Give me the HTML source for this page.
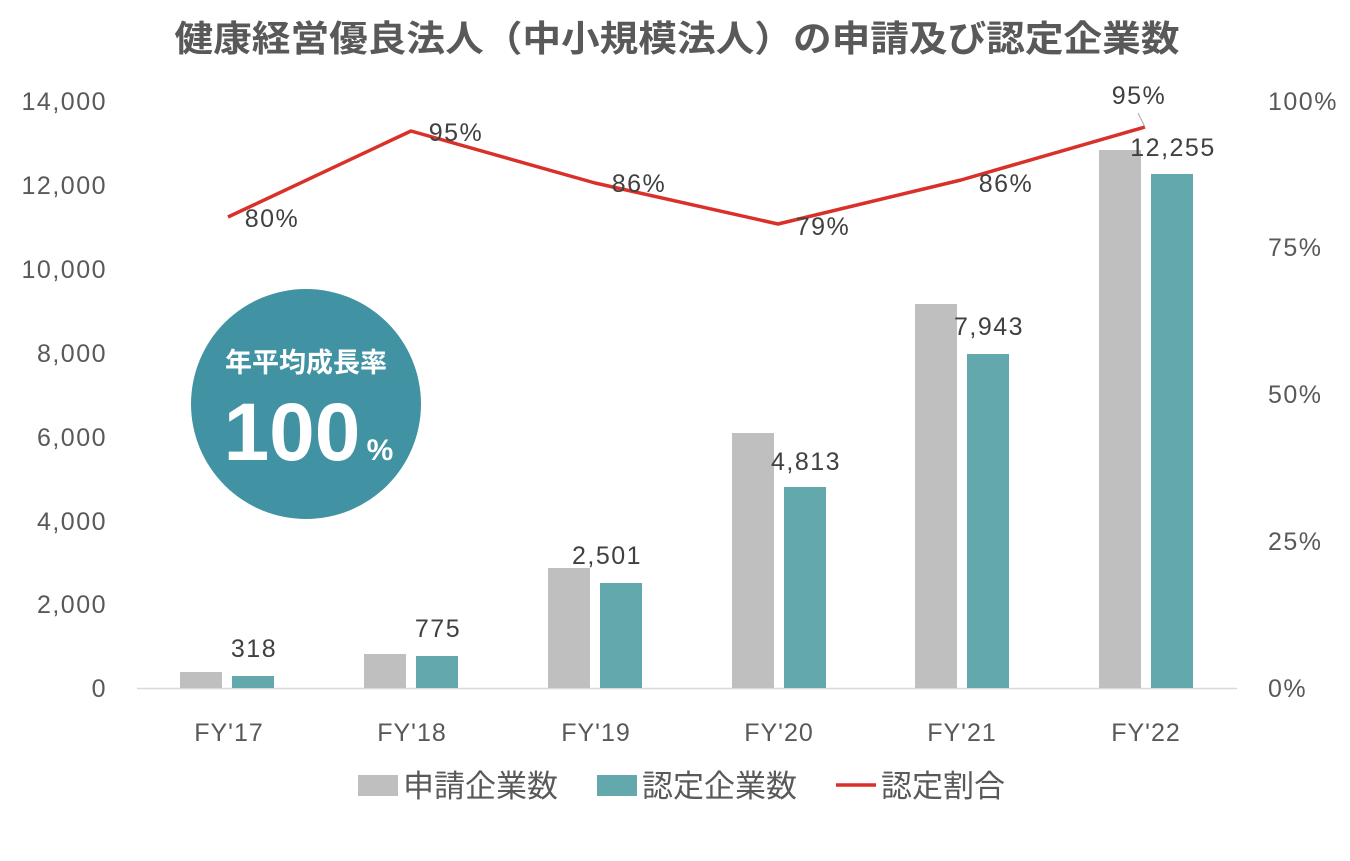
<!DOCTYPE html>
<html><head><meta charset="utf-8"><style>
body{margin:0;background:#fff;}
svg text{font-family:"Liberation Sans","Noto Sans CJK JP",sans-serif;}
</style></head><body>
<svg width="1350" height="856" viewBox="0 0 1350 856" xmlns="http://www.w3.org/2000/svg">
<rect width="1350" height="856" fill="#fff"/>
<text x="677" y="51" text-anchor="middle" font-size="36" font-weight="bold" fill="#595959" textLength="1005" lengthAdjust="spacingAndGlyphs">健康経営優良法人（中小規模法人）の申請及び認定企業数</text>
<g font-size="25" fill="#595959" text-anchor="end" letter-spacing="1.5">
<text x="107" y="110">14,000</text>
<text x="107" y="194">12,000</text>
<text x="107" y="278">10,000</text>
<text x="107" y="362">8,000</text>
<text x="107" y="446">6,000</text>
<text x="107" y="530">4,000</text>
<text x="107" y="613">2,000</text>
<text x="107" y="697">0</text>
</g>
<g font-size="25" fill="#595959" text-anchor="start" letter-spacing="1.5">
<text x="1268" y="110">100%</text>
<text x="1268" y="256">75%</text>
<text x="1268" y="403">50%</text>
<text x="1268" y="550">25%</text>
<text x="1268" y="697">0%</text>
</g>
<line x1="137" y1="688.5" x2="1237" y2="688.5" stroke="#d9d9d9" stroke-width="1.5"/>
<g fill="#bfbfbf">
<rect x="180" y="672" width="42" height="16"/>
<rect x="364" y="654" width="42" height="34"/>
<rect x="548" y="568" width="42" height="120"/>
<rect x="732" y="433" width="42" height="255"/>
<rect x="915" y="304" width="42" height="384"/>
<rect x="1099" y="150" width="42" height="538"/>
</g>
<g fill="#62a8ad">
<rect x="232" y="676" width="42" height="12"/>
<rect x="416" y="656" width="42" height="32"/>
<rect x="600" y="583" width="42" height="105"/>
<rect x="784" y="487" width="42" height="201"/>
<rect x="967" y="354" width="42" height="334"/>
<rect x="1151" y="174" width="42" height="514"/>
</g>
<g font-size="25" fill="#404040" text-anchor="middle" letter-spacing="1.5">
<text x="254" y="657">318</text>
<text x="438" y="637">775</text>
<text x="607" y="564">2,501</text>
<text x="806" y="470">4,813</text>
<text x="989" y="335">7,943</text>
<text x="1173" y="156">12,255</text>
</g>
<polyline points="228,217 411,131 595,183 778,224 961,180 1145,127" fill="none" stroke="#d9302a" stroke-width="3.5" stroke-linejoin="round"/>
<line x1="1145" y1="127" x2="1138" y2="113" stroke="#a6a6a6" stroke-width="1"/>
<g font-size="25" fill="#404040" text-anchor="middle" letter-spacing="1.5">
<text x="272" y="227">80%</text>
<text x="456" y="141">95%</text>
<text x="639" y="192">86%</text>
<text x="823" y="235">79%</text>
<text x="1006" y="192">86%</text>
<text x="1139" y="104">95%</text>
</g>
<g font-size="25" fill="#595959" text-anchor="middle" letter-spacing="1">
<text x="229" y="741">FY'17</text>
<text x="412" y="741">FY'18</text>
<text x="596" y="741">FY'19</text>
<text x="779" y="741">FY'20</text>
<text x="962" y="741">FY'21</text>
<text x="1146" y="741">FY'22</text>
</g>
<circle cx="306" cy="404" r="115" fill="#4193a4"/>
<text x="306" y="372" text-anchor="middle" font-size="27" font-weight="bold" fill="#fff">年平均成長率</text>
<text x="292" y="460" text-anchor="middle" font-size="82" font-weight="bold" fill="#fff">100</text>
<text x="380" y="460" text-anchor="middle" font-size="30" font-weight="bold" fill="#fff">%</text>
<rect x="358" y="775" width="40" height="21" fill="#bfbfbf"/>
<text x="403" y="797" font-size="31" fill="#595959">申請企業数</text>
<rect x="597" y="775" width="40" height="21" fill="#62a8ad"/>
<text x="642" y="797" font-size="31" fill="#595959">認定企業数</text>
<line x1="836" y1="785" x2="876" y2="785" stroke="#d9302a" stroke-width="3.5"/>
<text x="881" y="797" font-size="31" fill="#595959">認定割合</text>
</svg>
</body></html>
